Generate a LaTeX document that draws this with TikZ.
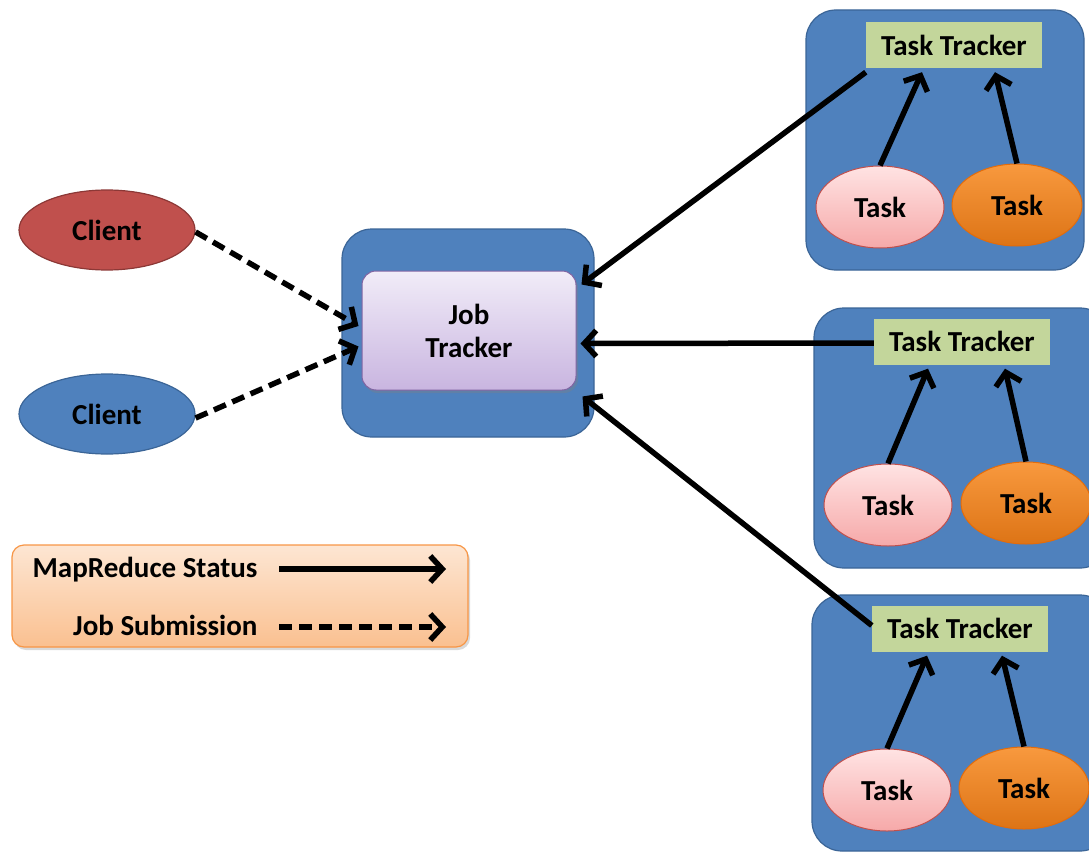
\documentclass[tikz,border=0pt]{standalone}
\usepackage{fontspec}
\setmainfont{Carlito}
\usetikzlibrary{arrows.meta,shapes.geometric,shadows,calc}
\definecolor{nodeblue}{HTML}{4F81BD}
\definecolor{nodeblueedge}{HTML}{3B6597}
\definecolor{clientred}{HTML}{C0504D}
\definecolor{clientrededge}{HTML}{8C3836}
\definecolor{ttgreen}{HTML}{C3D69B}
\definecolor{pinktop}{HTML}{FFE3E3}
\definecolor{pinkbot}{HTML}{F6A9A9}
\definecolor{pinkedge}{HTML}{C0504D}
\definecolor{orangetop}{HTML}{F8993E}
\definecolor{orangebot}{HTML}{DD7416}
\definecolor{orangeedge}{HTML}{E46C0A}
\definecolor{lavtop}{HTML}{F1ECF8}
\definecolor{lavbot}{HTML}{C9B5E0}
\definecolor{lavedge}{HTML}{8064A2}
\definecolor{legtop}{HTML}{FDE6D3}
\definecolor{legbot}{HTML}{FAC090}
\definecolor{legedge}{HTML}{F79646}
\tikzset{
  lbl/.style={font=\bfseries\fontsize{29}{33}\selectfont, text=black},
  hostbox/.style={draw=nodeblueedge, line width=1.2pt, fill=nodeblue, rounded corners=30pt},
  client/.style={ellipse, draw=#1edge, line width=1.2pt, fill=#1, minimum width=176pt, minimum height=80pt, inner sep=0pt, lbl},
  trackerbox/.style={draw=none, fill=ttgreen, minimum width=176pt, minimum height=46pt, inner sep=0pt, lbl},
  taskpink/.style={ellipse, draw=pinkedge, line width=1pt, top color=pinktop, bottom color=pinkbot, minimum width=128pt, minimum height=82pt, inner sep=0pt, lbl},
  taskorange/.style={ellipse, draw=orangeedge, line width=1pt, top color=orangetop, bottom color=orangebot, minimum width=130pt, minimum height=82pt, inner sep=0pt, lbl},
  status/.style={line width=5.5pt, -{Straight Barb[length=12pt,width=26pt,line width=5.5pt]}},
  submit/.style={status, dash pattern=on 13pt off 7pt},
}
\begin{document}
\begin{tikzpicture}[x=1pt,y=-1pt]
\useasboundingbox (0,0) rectangle (1089,853);

% host boxes
\draw[hostbox] (342,229) rectangle (594,437);
\begin{scope}
\clip (0,0) rectangle (1089,853);
\draw[hostbox] (806,10) rectangle (1084,270);
\draw[hostbox] (814,308) rectangle (1110,568);
\draw[hostbox] (812,595) rectangle (1110,851);
\end{scope}

% job tracker
\node[draw=lavedge, line width=1pt, top color=lavtop, bottom color=lavbot, rounded corners=14pt,
      minimum width=214pt, minimum height=119pt, inner sep=0pt, lbl, align=center,
      drop shadow={opacity=0.35, shadow xshift=2pt, shadow yshift=-3pt}]
  (jt) at (469,330.5) {Job\\Tracker};

% clients
\node[client=clientred] (c1) at (107,230) {Client};
\node[client=nodeblue] (c2) at (107,414) {Client};

% task trackers and tasks
\node[trackerbox] (tt1) at (954,45) {Task Tracker};
\node[taskpink] (p1) at (880,207) {Task};
\node[taskorange] (o1) at (1017,205) {Task};

\node[trackerbox] (tt2) at (962,341.5) {Task Tracker};
\node[taskpink] (p2) at (888,505) {Task};
\node[taskorange] (o2) at (1026,503) {Task};

\node[trackerbox] (tt3) at (960,628.5) {Task Tracker};
\node[taskpink] (p3) at (887,790) {Task};
\node[taskorange] (o3) at (1024,788) {Task};

% tasks report to their task tracker
\draw[status] (p1.north) -- ($(tt1.south)+(-32,4)$);
\draw[status] (o1.north) -- ($(tt1.south)+(41,4)$);
\draw[status] (p2.north) -- ($(tt2.south)+(-34,4)$);
\draw[status] (o2.north) -- ($(tt2.south)+(43,4)$);
\draw[status] (p3.north) -- ($(tt3.south)+(-33,4)$);
\draw[status] (o3.north) -- ($(tt3.south)+(42,4)$);

% task trackers report to the job tracker
\draw[status] ($(tt1.south west)+(0,4)$) -- ($(jt.north east)+(5,14)$);
\draw[status] ($(tt2.west)+(0,1.5)$) -- ($(jt.east)+(4,13)$);
\draw[status] ($(tt3.west)+(0,-3)$) -- ($(jt.south east)+(6,6)$);

% clients submit jobs
\draw[submit] ($(c1.east)+(0,2)$) -- ($(jt.west)+(-3,-4.5)$);
\draw[submit] ($(c2.east)+(0,4)$) -- ($(jt.west)+(-3,16)$);

% legend
\node[draw=legedge, line width=1.2pt, top color=legtop, bottom color=legbot, rounded corners=12pt,
      minimum width=456pt, minimum height=102pt, inner sep=0pt,
      drop shadow={opacity=0.3, shadow xshift=2pt, shadow yshift=-3pt}]
  (leg) at (240,596) {};
\node[lbl, anchor=east] (ls) at (261,570) {MapReduce Status};
\node[lbl, anchor=east] (lj) at (261,625) {Job Submission};
\coordinate (lse) at (446,569);
\coordinate (lje) at (446,627);
\draw[status] ($(ls.east)+(18,-1)$) -- (lse);
\draw[submit] ($(lj.east)+(18,2)$) -- (lje);
\end{tikzpicture}
\end{document}
